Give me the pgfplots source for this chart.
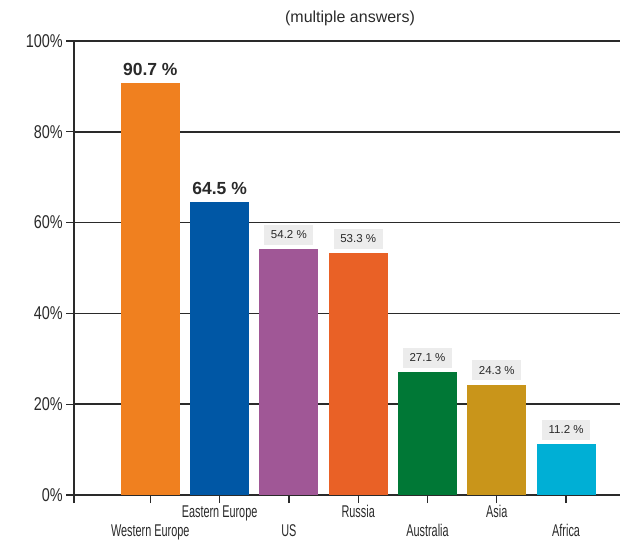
\documentclass[border=0pt]{standalone}
\usepackage{fontspec}
\setmainfont{Liberation Sans}
\newfontfamily\condfont[FakeStretch=0.64]{Liberation Sans}
\newfontfamily\ycondfont[FakeStretch=0.78]{Liberation Sans}
\usepackage{pgfplots}
\pgfplotsset{compat=1.18}
\definecolor{cWE}{HTML}{F0801F}
\definecolor{cEE}{HTML}{0057A5}
\definecolor{cUS}{HTML}{A05796}
\definecolor{cRU}{HTML}{E96126}
\definecolor{cAU}{HTML}{007836}
\definecolor{cAS}{HTML}{C9951A}
\definecolor{cAF}{HTML}{00AFD5}
\definecolor{gridc}{HTML}{2A2A2A}
\definecolor{boxc}{HTML}{ECECEC}
\definecolor{txt}{HTML}{2A2A2A}
\begin{document}
\begin{tikzpicture}[x=1pt,y=1pt]
\useasboundingbox (0,0) rectangle (620,541);
\node[font=\fontsize{16}{19}\selectfont, text=txt] at (350,523) {(multiple answers)};
\begin{axis}[
  at={(74pt,46pt)}, anchor=south west,
  width=546pt, height=454pt, scale only axis,
  xmin=-1.101, xmax=6.778,
  ymin=0, ymax=100,
  ybar, bar width=0.851, bar shift=0pt,
  axis x line=bottom, axis y line=left,
  axis line style={-, line width=1.5pt, color=gridc},
  ymajorgrids, grid style={line width=1.5pt, color=gridc},
  tick align=outside, major tick length=8pt,
  tick style={line width=1.3pt, color=gridc},
  xtick={0,...,6},
  extra x ticks={-1.101}, extra x tick labels={},
  xticklabels={{\strut\\Western Europe},{\strut Eastern Europe},{\strut\\US},{\strut Russia},{\strut\\Australia},{\strut Asia},{\strut\\Africa}},
  xticklabel style={font=\condfont\fontsize{17}{19}\selectfont, align=center, text=txt, inner sep=0pt, yshift=-1pt},
  ytick={0,20,...,100},
  /pgf/number format/assume math mode=true,
  yticklabel={\pgfmathprintnumber{\tick}\%},
  yticklabel style={font=\ycondfont\fontsize{18.5}{20}\selectfont, text=txt, inner sep=0pt, xshift=-3pt},
  nodes near coords={\pgfmathprintnumber[fixed,precision=1,fixed zerofill]{\pgfplotspointmeta}~\%},
  clip=false,
]
\addplot[fill=cWE, draw=none, nodes near coords style={font=\bfseries\fontsize{17.5}{20}\selectfont, text=txt, anchor=south, inner sep=0pt, yshift=7pt}] coordinates {(0,90.7)};
\addplot[fill=cEE, draw=none, nodes near coords style={font=\bfseries\fontsize{17.5}{20}\selectfont, text=txt, anchor=south, inner sep=0pt, yshift=7pt}] coordinates {(1,64.5)};
\addplot[fill=cUS, draw=none, nodes near coords style={font=\fontsize{11.5}{14}\selectfont, text=txt, fill=boxc, anchor=south, inner xsep=6.5pt, minimum height=20pt, yshift=4pt}] coordinates {(2,54.2)};
\addplot[fill=cRU, draw=none, nodes near coords style={font=\fontsize{11.5}{14}\selectfont, text=txt, fill=boxc, anchor=south, inner xsep=6.5pt, minimum height=20pt, yshift=4pt}] coordinates {(3,53.3)};
\addplot[fill=cAU, draw=none, nodes near coords style={font=\fontsize{11.5}{14}\selectfont, text=txt, fill=boxc, anchor=south, inner xsep=6.5pt, minimum height=20pt, yshift=4pt}] coordinates {(4,27.1)};
\addplot[fill=cAS, draw=none, nodes near coords style={font=\fontsize{11.5}{14}\selectfont, text=txt, fill=boxc, anchor=south, inner xsep=6.5pt, minimum height=20pt, yshift=4pt}] coordinates {(5,24.3)};
\addplot[fill=cAF, draw=none, nodes near coords style={font=\fontsize{11.5}{14}\selectfont, text=txt, fill=boxc, anchor=south, inner xsep=6.5pt, minimum height=20pt, yshift=4pt}] coordinates {(6,11.2)};
\end{axis}
\end{tikzpicture}
\end{document}
